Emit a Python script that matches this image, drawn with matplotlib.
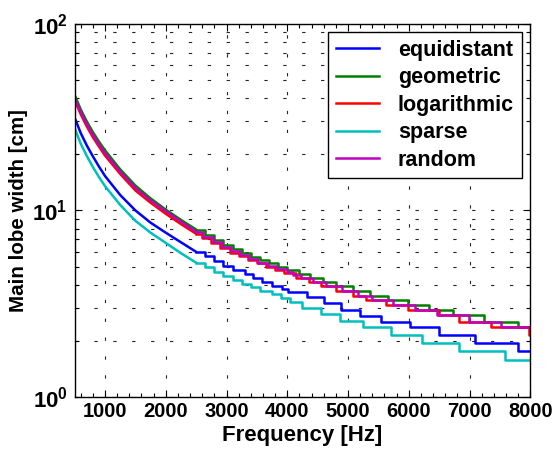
import matplotlib
matplotlib.use("Agg")
from matplotlib import pyplot as plt
from matplotlib.ticker import FixedLocator, FixedFormatter, NullFormatter

plt.rcParams["font.family"] = ["Liberation Sans", "DejaVu Sans"]
plt.rcParams["font.weight"] = "bold"
plt.rcParams["mathtext.fontset"] = "custom"
plt.rcParams["mathtext.bf"] = "Liberation Sans:bold"
plt.rcParams["mathtext.rm"] = "Liberation Sans:bold"

# smooth part of the curves (low frequencies)
freq_smooth = [500, 600, 700, 800, 900, 1000, 1250, 1500, 1750, 2000, 2250, 2500]
equi_smooth = [31.4, 26.0, 22.3, 19.5, 17.2, 15.3, 12.1, 10.0, 8.6, 7.6, 6.75, 6.0]
geom_smooth = [41.6, 34.8, 30.0, 26.3, 23.4, 21.0, 16.6, 13.6, 11.6, 10.1, 8.9, 7.9]
loga_smooth = [39.0, 32.8, 28.2, 24.7, 22.0, 19.7, 15.7, 12.8, 11.0, 9.6, 8.45, 7.5]
spar_smooth = [27.6, 22.8, 19.6, 17.1, 15.1, 13.5, 10.7, 8.8, 7.6, 6.7, 5.9, 5.25]
rand_smooth = [40.0, 33.6, 29.0, 25.4, 22.6, 20.3, 16.1, 13.2, 11.3, 9.9, 8.7, 7.7]

# staircase part (step start frequency, level)
equi_f = [2500, 2650, 2800, 2950, 3100, 3300, 3440, 3580, 3745, 3910, 4020, 4320, 4600,
          4890, 5200, 5545, 6020, 6490, 7090, 7800, 8000]
equi_v = [6.0, 5.7, 5.35, 5.05, 4.8, 4.55, 4.33, 4.15, 3.94, 3.78, 3.67, 3.45, 3.2,
          2.93, 2.72, 2.53, 2.36, 2.15, 1.94, 1.76, 1.76]
geom_f = [2500, 2650, 2800, 2950, 3100, 3250, 3400, 3550, 3700, 3850, 4000, 4200, 4380,
          4590, 4810, 5090, 5370, 5650, 5990, 6330, 6720, 7240, 7800, 8000]
geom_v = [7.9, 7.4, 6.95, 6.55, 6.2, 5.9, 5.65, 5.4, 5.2, 5.0, 4.8, 4.57, 4.33,
          4.12, 3.92, 3.68, 3.5, 3.31, 3.13, 2.93, 2.75, 2.53, 2.36, 2.36]
loga_f = [2500, 2600, 2750, 2900, 3050, 3200, 3350, 3500, 3650, 3800, 3950, 4150, 4350,
          4550, 4800, 5080, 5300, 5620, 5990, 6500, 6830, 7350, 7980, 8000]
loga_v = [7.5, 7.1, 6.7, 6.3, 5.95, 5.7, 5.45, 5.2, 5.0, 4.8, 4.6, 4.33, 4.12,
          3.92, 3.68, 3.5, 3.31, 3.13, 2.93, 2.75, 2.53, 2.36, 2.16, 2.16]
spar_f = [2500, 2650, 2800, 2950, 3100, 3250, 3400, 3550, 3750, 3900, 4050, 4250, 4550,
          4875, 5240, 5700, 6220, 6820, 7590, 8000]
spar_v = [5.25, 4.95, 4.7, 4.45, 4.25, 4.05, 3.9, 3.72, 3.55, 3.4, 3.24, 2.99, 2.77,
          2.56, 2.36, 2.15, 1.95, 1.77, 1.57, 1.57]
rand_f = [2500, 2620, 2770, 2920, 3070, 3220, 3370, 3520, 3680, 3830, 4000, 4100, 4220,
          4420, 4630, 4900, 5170, 5400, 5740, 6110, 6470, 6990, 7515, 8000]
rand_v = [7.7, 7.25, 6.8, 6.4, 6.05, 5.75, 5.5, 5.25, 5.05, 4.85, 4.66, 4.5, 4.33,
          4.12, 3.92, 3.68, 3.5, 3.31, 3.13, 2.93, 2.75, 2.53, 2.36, 2.36]

series = [
    ("equidistant", (0, 0, 1), equi_smooth, equi_f, equi_v),
    ("geometric", (0, 0.5, 0), geom_smooth, geom_f, geom_v),
    ("logarithmic", (1, 0, 0), loga_smooth, loga_f, loga_v),
    ("sparse", (0, 0.75, 0.75), spar_smooth, spar_f, spar_v),
    ("random", (0.75, 0, 0.75), rand_smooth, rand_f, rand_v),
]

fig = plt.figure(figsize=(5.57, 4.59), dpi=100)
ax = fig.add_axes([0.134, 0.135, 0.818, 0.813])

for name, col, sm, sf, sv in series:
    ax.plot(freq_smooth, sm, color=col, lw=1.8, label=name)
    ax.step(sf, sv, where="post", color=col, lw=1.8)

ax.set_yscale("log")
ax.set_xlim(500, 8000)
ax.set_ylim(1, 100)

ax.xaxis.set_major_locator(FixedLocator(range(1000, 8001, 1000)))
ax.xaxis.set_minor_locator(FixedLocator([f for f in range(600, 8001, 200) if f % 1000]))
ax.yaxis.set_major_locator(FixedLocator([1, 10, 100]))
ax.yaxis.set_major_formatter(FixedFormatter([r"$\mathbf{10^{0}}$", r"$\mathbf{10^{1}}$", r"$\mathbf{10^{2}}$"]))
ax.yaxis.set_minor_locator(FixedLocator([m * d for d in (1, 10) for m in range(2, 10)]))
ax.yaxis.set_minor_formatter(NullFormatter())

ax.tick_params(which="both", direction="in", top=True, right=True, labelsize=14.5)
ax.tick_params(which="major", length=5, width=0.8)
ax.tick_params(which="minor", length=3, width=0.8)
ax.tick_params(axis="y", which="major", labelsize=16, pad=5)

grid_style = dict(color="0.15", linestyle=(0, (3, 14)), linewidth=0.8)
ax.grid(True, which="major", axis="both", **grid_style)
ax.grid(True, which="minor", axis="y", **grid_style)

for s in ax.spines.values():
    s.set_linewidth(1.0)

ax.set_xlabel("Frequency [Hz]", fontsize=16, fontweight="bold", labelpad=3)
ax.set_ylabel("Main lobe width [cm]", fontsize=14.8, fontweight="bold", labelpad=3)

leg = ax.legend(loc="upper right", fontsize=15.5, frameon=True, fancybox=False,
                edgecolor="black", framealpha=1, handlelength=2.0, handletextpad=0.9,
                borderaxespad=0.4, labelspacing=0.3, borderpad=0.35)
leg.get_frame().set_linewidth(1.0)

fig.savefig("out.png", dpi=100)
